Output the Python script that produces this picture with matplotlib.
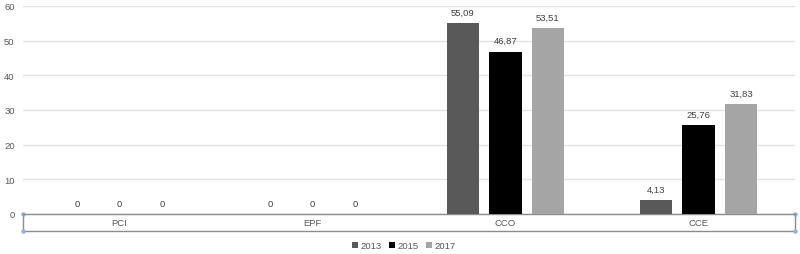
import numpy as np
import matplotlib.pyplot as plt

categories = ["PCI", "EPF", "CCO", "CCE"]
years = ["2013", "2015", "2017"]
v2013 = [0, 0, 55.09, 4.13]
v2015 = [0, 0, 46.87, 25.76]
v2017 = [0, 0, 53.51, 31.83]
colors = ["#595959", "#000000", "#a5a5a5"]

plt.rcParams['font.family'] = ['Liberation Sans', 'DejaVu Sans']
txt = "#595959"
fs = 6.8

fig = plt.figure(figsize=(8, 2.55), dpi=100)
W, H = 800, 255
ax = fig.add_axes([23 / W, 1 - 215 / H, (795 - 23) / W, (215 - 7) / H])

x = np.arange(len(categories))
width = 0.166
step = 0.22
series = [v2013, v2015, v2017]
for i, (vals, c, yr) in enumerate(zip(series, colors, years)):
    pos = x + (i - 1) * step
    bars = ax.bar(pos, vals, width, color=c, label=yr, zorder=3)
    for b, v in zip(bars, vals):
        lab = f"{v:.2f}".replace(".", ",") if v else "0"
        ax.annotate(lab, (b.get_x() + b.get_width() / 2, v),
                    xytext=(0, 4.5), textcoords="offset points",
                    ha="center", va="bottom", fontsize=fs, color="#404040")

ax.set_xlim(-0.5, len(categories) - 0.5)
ax.set_ylim(0, 60)
ax.set_yticks(range(0, 61, 10))
ax.tick_params(axis="y", length=0, pad=6, labelsize=fs, labelcolor=txt)
ax.set_xticks([])
ax.grid(axis="y", color="#e3e3e3", lw=1, zorder=0)
for s in ["top", "right", "left"]:
    ax.spines[s].set_visible(False)
ax.spines["bottom"].set_color("#8c8c8c")
ax.spines["bottom"].set_linewidth(1)

# category label box below the axis
dy = 17 / (215 - 7)
box_kw = dict(color="#8c8c8c", lw=1, transform=ax.transAxes, clip_on=False)
ax.plot([0, 0], [0, -dy], **box_kw)
ax.plot([1, 1], [0, -dy], **box_kw)
ax.plot([0, 1], [-dy, -dy], **box_kw)
ax.plot([0, 0, 1, 1], [0, -dy, 0, -dy], "o", ms=2.2, color="#8fb4d9",
        transform=ax.transAxes, clip_on=False)
for i, c in enumerate(categories):
    ax.text((i + 0.5) / len(categories), -dy / 2, c, transform=ax.transAxes,
            ha="center", va="center", fontsize=fs, color=txt)

fig.legend(loc="center", bbox_to_anchor=(404 / W, 1 - 247 / H), ncol=3,
           frameon=False, fontsize=fs, labelcolor=txt, handlelength=0.6,
           handleheight=0.6, handletextpad=0.3, columnspacing=0.8)

fig.savefig("out.png", dpi=100)
